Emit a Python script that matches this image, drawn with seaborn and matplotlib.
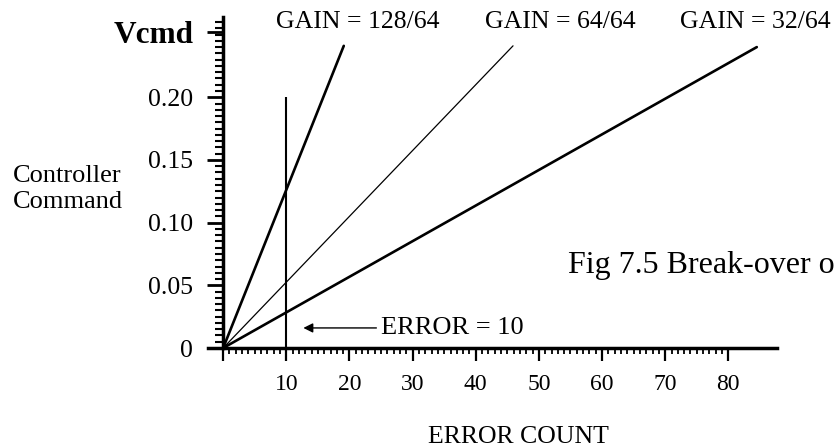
import numpy as np
import pandas as pd
import matplotlib
matplotlib.use("Agg")
import matplotlib.pyplot as plt
from matplotlib.ticker import FixedLocator
import seaborn as sns

# gain lines: each starts at the origin and runs to the end point below
gain_labels = ["GAIN = 128/64", "GAIN = 64/64", "GAIN = 32/64"]
gain_end_count = [19.1, 45.9, 84.5]
gain_end_vcmd = [0.241, 0.241, 0.240]
gain_widths = [1.9, 0.9, 1.9]

# vertical marker at the break-over error
error_marker = 10
marker_top = 0.20

x_ticks = [0, 10, 20, 30, 40, 50, 60, 70, 80]
x_tick_labels = ["", "10", "20", "30", "40", "50", "60", "70", "80"]
y_ticks = [0, 0.05, 0.10, 0.15, 0.20, 0.252]
y_tick_labels = ["0", "0.05", "0.10", "0.15", "0.20", "Vcmd"]

sns.set_style("ticks")
plt.rcParams["font.family"] = ["Liberation Serif", "DejaVu Serif"]
# plain black drawing, no seaborn greys
plt.rcParams.update({"axes.edgecolor": "black", "xtick.color": "black",
                     "ytick.color": "black", "text.color": "black",
                     "axes.labelcolor": "black"})

fig = plt.figure(figsize=(8.35, 4.48), dpi=100)
ax = fig.add_axes([208 / 835, 100 / 448, 569 / 835, 331 / 448])

for label, end_x, end_v, lw in zip(gain_labels, gain_end_count, gain_end_vcmd, gain_widths):
    line_df = pd.DataFrame({"count": [0, end_x], "vcmd": [0, end_v]})
    sns.lineplot(data=line_df, x="count", y="vcmd", color="black", linewidth=lw,
                 ax=ax, clip_on=False)

ax.vlines(error_marker, 0, marker_top, color="black", linewidth=1.5)

ax.set_xlim(-2.4, 87.7)
ax.set_ylim(0, 0.264)
ax.set_xlabel("")
ax.set_ylabel("")

# axes look like a ruler
ax.spines["top"].set_visible(False)
ax.spines["right"].set_visible(False)
ax.spines["left"].set_position(("data", 0))
ax.spines["left"].set_linewidth(2.5)
ax.spines["bottom"].set_linewidth(2.5)

ax.set_xticks(x_ticks)
ax.set_xticklabels(x_tick_labels)
ax.xaxis.set_minor_locator(FixedLocator(np.arange(0, 81, 1)))
ax.set_yticks(y_ticks)
ax.set_yticklabels(y_tick_labels)
ax.yaxis.set_minor_locator(FixedLocator(np.arange(0, 0.262, 0.005)))

ax.tick_params(axis="x", which="major", direction="out", length=9, width=1.6,
               labelsize=17, pad=10)
ax.tick_params(axis="x", which="minor", direction="out", length=4.3, width=1.3)
ax.tick_params(axis="y", which="major", direction="out", length=11.5, width=2,
               labelsize=18.5, pad=10)
ax.tick_params(axis="y", which="minor", direction="out", length=6, width=1.5)

vcmd = ax.get_yticklabels()[-1]
vcmd.set_fontweight("bold")
vcmd.set_fontsize(22.5)

# gain labels above the line ends
ax.text(8.4, 0.260, gain_labels[0], fontsize=18.5, ha="left", va="center", clip_on=False)
ax.text(41.5, 0.260, gain_labels[1], fontsize=18.5, ha="left", va="center", clip_on=False)
ax.text(72.3, 0.260, gain_labels[2], fontsize=18.5, ha="left", va="center", clip_on=False)

ax.annotate("ERROR = 10", xy=(12.7, 0.016), xytext=(25.0, 0.016),
            fontsize=19, ha="left", va="center",
            arrowprops=dict(arrowstyle="-|>", color="black", lw=1.0,
                            mutation_scale=14, shrinkA=1, shrinkB=0))

fig.text(13 / 835, 1 - 189 / 448, "Controller\nCommand", fontsize=19,
         ha="left", va="center", linespacing=1.25)
fig.text(518 / 835, 1 - 437 / 448, "ERROR COUNT", fontsize=18.5,
         ha="center", va="center")
fig.text(568 / 835, 1 - 265 / 448, "Fig 7.5 Break-over o", fontsize=23,
         ha="left", va="center")

fig.savefig("out.png", dpi=100)
